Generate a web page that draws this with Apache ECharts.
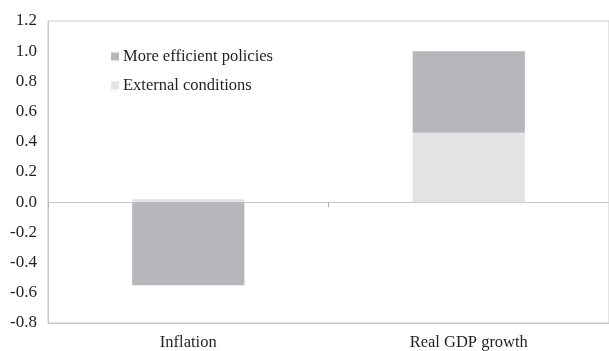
<!DOCTYPE html>
<html>
<head>
<meta charset="utf-8">
<script src="https://cdn.jsdelivr.net/npm/echarts@6/dist/echarts.min.js"></script>
<style>
  html, body { margin: 0; padding: 0; background: #fff; }
  #chart { width: 609px; height: 351px; }
</style>
</head>
<body>
<div id="chart"></div>
<script>
// data
const categories = ['Inflation', 'Real GDP growth']
const externalConditions = [0.02, 0.46]
const efficientPolicies = [-0.55, 0.54]
const seriesNames = ['More efficient policies', 'External conditions']
const yMin = -0.8
const yMax = 1.2
const yStep = 0.2

const font = '"Liberation Serif", "DejaVu Serif", serif'
const lineColor = '#c9c9cb'
const textColor = '#231f20'

const chart = echarts.init(document.getElementById('chart'))

chart.setOption({
  animation: false,
  grid: {
    left: 48,
    top: 21,
    width: 567,
    height: 303,
    show: true,
    borderColor: lineColor,
    borderWidth: 1
  },
  legend: {
    data: seriesNames,
    orient: 'vertical',
    left: 106,
    top: 43,
    itemWidth: 8,
    itemHeight: 8,
    itemGap: 12,
    icon: 'rect',
    textStyle: { fontFamily: font, fontSize: 16.5, color: textColor, lineHeight: 16, padding: [0, 0, 0, -1] }
  },
  xAxis: [
    {
      type: 'category',
      data: categories,
      axisLine: { onZero: false, lineStyle: { color: lineColor } },
      axisTick: { show: false },
      axisLabel: { fontFamily: font, fontSize: 16.5, color: textColor, margin: 11 }
    },
    {
      // zero line with the category boundary tick
      type: 'category',
      data: categories,
      position: 'top',
      axisLine: { onZero: true, lineStyle: { color: lineColor } },
      axisTick: { show: true, inside: true, length: 5, lineStyle: { color: '#b0b0b0' } },
      axisLabel: { show: false }
    }
  ],
  yAxis: {
    type: 'value',
    min: yMin,
    max: yMax,
    interval: yStep,
    axisLine: { show: true, lineStyle: { color: lineColor } },
    axisTick: { show: false },
    splitLine: { show: false },
    axisLabel: {
      fontFamily: font,
      fontSize: 17,
      color: textColor,
      margin: 11,
      formatter: v => v.toFixed(1)
    }
  },
  series: [
    {
      name: 'External conditions',
      type: 'bar',
      stack: 'total',
      barWidth: '40%',
      data: externalConditions,
      itemStyle: { color: '#e2e3e5' }
    },
    {
      name: 'More efficient policies',
      type: 'bar',
      stack: 'total',
      barWidth: '40%',
      data: efficientPolicies,
      itemStyle: { color: '#b6b7ba' }
    }
  ]
})
</script>
</body>
</html>
